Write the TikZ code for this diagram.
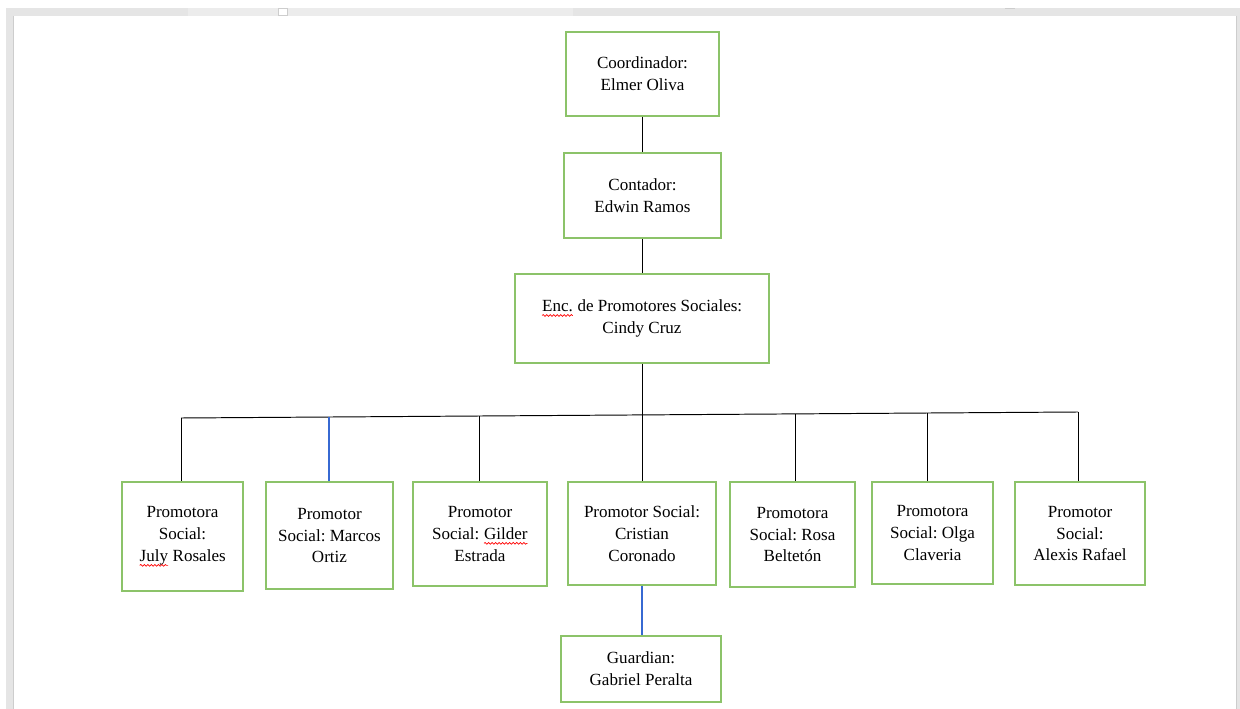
\documentclass[tikz,border=0pt]{standalone}
\usepackage{fontspec}
\setmainfont{Liberation Serif}
\usepackage{tikz}
\usetikzlibrary{decorations.pathmorphing}
\frenchspacing
\definecolor{verde}{RGB}{140,195,105}
\definecolor{azul}{RGB}{55,105,210}
\definecolor{gris}{RGB}{229,229,229}
\definecolor{grisclaro}{RGB}{236,236,236}
\definecolor{grisborde}{RGB}{205,205,205}
\newcommand{\subrojo}[1]{\tikz[baseline=(w.base), x=1cm, y=1cm]{\node[draw=none, inner sep=0pt, outer sep=0pt,
  minimum width=0pt, minimum height=0pt] (w) {#1};
  \draw[red, line width=0.4pt, decorate, decoration={snake, amplitude=0.5pt, segment length=2pt}]
  ([yshift=-2.2pt]w.base west) -- ([yshift=-2.2pt]w.base east);}}
\tikzset{
  caja/.style={draw=verde, line width=1pt, align=center, inner sep=0pt,
    font=\fontsize{9.7}{12.5}\selectfont},
  linea/.style={line width=0.55pt, black},
  lineaazul/.style={line width=0.8pt, azul}
}

\begin{document}
\begin{tikzpicture}[x=0.02cm,y=-0.02cm]
\useasboundingbox (0,0) rectangle (1240,709);
\fill[white] (0,0) rectangle (1240,709);
\fill[gris] (6,8) rectangle (1240,16);
\fill[grisclaro] (188,8) rectangle (573,16);
\fill[gris] (6,8) rectangle (13,709);
\fill[gris] (1237,16) rectangle (1240,709);
\draw[grisborde] (13.5,16) -- (13.5,709);
\draw[grisborde] (1236.5,16) -- (1236.5,709);
\draw[grisborde, fill=white] (278,8) rectangle (287,15.5);
\draw[grisborde, line width=0.8pt] (1005,8.5) -- (1015,8.5);

\node[caja, minimum width=3.06cm, minimum height=1.68cm] (coord) at (642.5,74) {Coordinador:\\Elmer Oliva};
\node[caja, minimum width=3.14cm, minimum height=1.70cm] (cont) at (642.5,195.5) {Contador:\\Edwin Ramos};
\node[caja, minimum width=5.08cm, minimum height=1.78cm] (enc) at (642,318.5) {\subrojo{Enc.} de Promotores Sociales:\\Cindy Cruz};
\node[caja, minimum width=2.42cm, minimum height=2.18cm] (p1) at (182.5,536.5) {Promotora\\Social:\\\subrojo{July} Rosales};
\node[caja, minimum width=2.54cm, minimum height=2.14cm] (p2) at (329.5,535.5) {Promotor\\Social: Marcos\\Ortiz};
\node[caja, minimum width=2.68cm, minimum height=2.08cm] (p3) at (480,534) {Promotor\\Social: \subrojo{Gilder}\\Estrada};
\node[caja, minimum width=2.96cm, minimum height=2.06cm] (p4) at (642,533.5) {Promotor Social:\\Cristian\\Coronado};
\node[caja, minimum width=2.50cm, minimum height=2.10cm] (p5) at (792.5,534.5) {Promotora\\Social: Rosa\\Beltetón};
\node[caja, minimum width=2.42cm, minimum height=2.04cm] (p6) at (932.5,533) {Promotora\\Social: Olga\\Claveria};
\node[caja, minimum width=2.60cm, minimum height=2.06cm] (p7) at (1080,533.5) {Promotor\\Social:\\Alexis Rafael};
\node[caja, minimum width=3.20cm, minimum height=1.32cm] (guard) at (641,669) {Guardian:\\Gabriel Peralta};

\coordinate (b1) at (181,418);
\coordinate (b2) at (329,417);
\coordinate (b3) at (479,416);
\coordinate (b5) at (795,413.9);
\coordinate (b6) at (927,413);
\coordinate (b7) at (1078,412);

\draw[linea] (coord) -- (cont);
\draw[linea] (cont) -- (cont.south |- enc.north);
\draw[linea] (enc.south) -- (enc.south |- p4.north);
\draw[linea] (b1) -- (b7);
\draw[linea] (b1) -- (b1 |- p1.north);
\draw[lineaazul] (b2) -- (b2 |- p2.north);
\draw[linea] (b3) -- (b3 |- p3.north);
\draw[linea] (b5) -- (b5 |- p5.north);
\draw[linea] (b6) -- (b6 |- p6.north);
\draw[linea] (b7) -- (b7 |- p7.north);
\draw[lineaazul] (p4.south) -- (p4.south |- guard.north);
\end{tikzpicture}
\end{document}
